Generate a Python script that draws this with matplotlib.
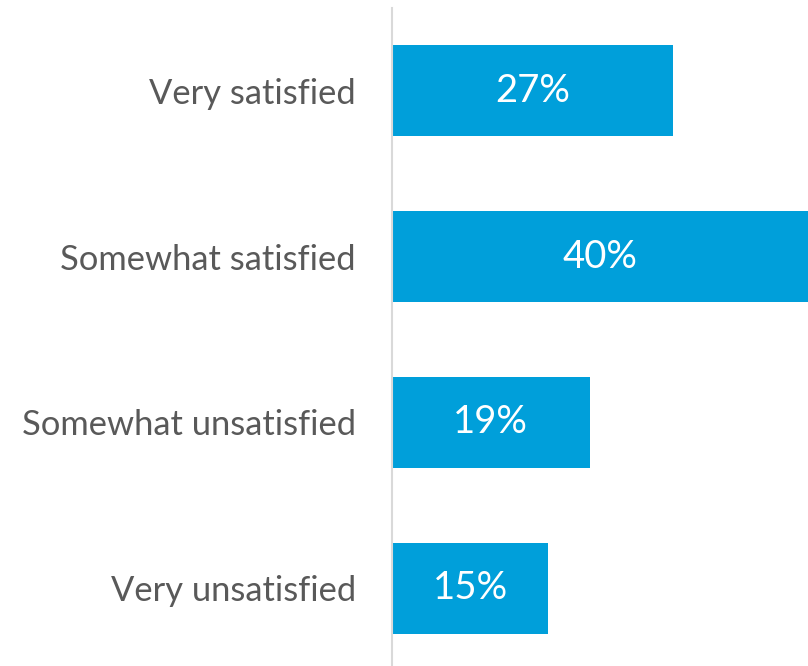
import matplotlib
matplotlib.use("Agg")
import matplotlib.pyplot as plt

# ── Data ──────────────────────────────────────────────────────────────────────
CATEGORIES = ["Very satisfied", "Somewhat satisfied", "Somewhat unsatisfied", "Very unsatisfied"]
SHARES = [27, 40, 19, 15]

BLUE = "#009FDA"
GRAY_TEXT = "#595959"
AXIS_GRAY = "#D9D9D9"

plt.rcParams["font.family"] = ["Lato", "DejaVu Sans"]

fig = plt.figure(figsize=(8.08, 6.66), dpi=100)
ax = fig.add_axes([392 / 808, 0.0, 416 / 808, 1 - 8 / 666])

ypos = list(range(len(CATEGORIES)))
ax.barh(ypos, SHARES, height=0.55, color=BLUE)
for y, v in zip(ypos, SHARES):
    ax.text(v / 2, y, f"{v}%", ha="center", va="center", color="white", fontsize=27.5)

ax.set_xlim(0, 40)
ax.set_ylim(3.47, -0.5)
ax.set_yticks(ypos, CATEGORIES, fontsize=24.8, color=GRAY_TEXT)
ax.tick_params(axis="y", length=0, pad=26)
ax.set_xticks([])
for side in ["top", "right", "bottom"]:
    ax.spines[side].set_visible(False)
ax.spines["left"].set_color(AXIS_GRAY)
ax.spines["left"].set_linewidth(1.5)

fig.savefig("out.png", dpi=100)
